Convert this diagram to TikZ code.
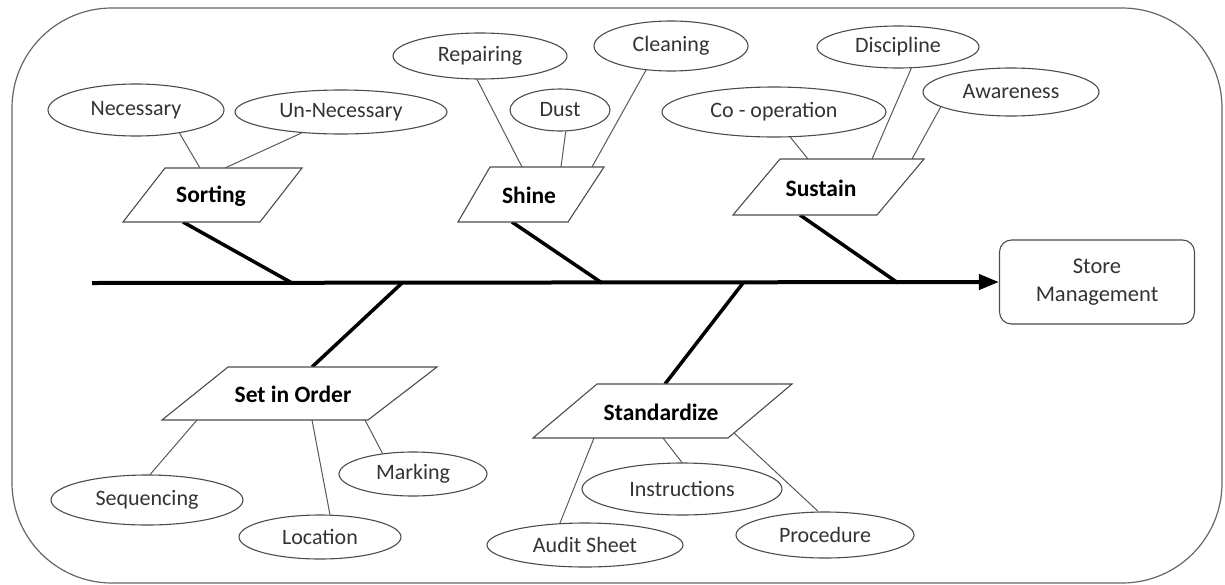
\documentclass[tikz,border=0pt]{standalone}
\usepackage{fontspec}
\setmainfont{Carlito}
\usetikzlibrary{shapes.geometric,arrows.meta}
\begin{document}
\begin{tikzpicture}[x=1pt,y=-1pt,
  leaf/.style={draw=black!70, line width=1.1pt, ellipse, inner sep=0pt, text=black!80, font=\fontsize{22}{26}\selectfont},
  para/.style={draw=black!70, line width=1.1pt, fill=white},
  plabel/.style={font=\fontsize{23.5}{27}\selectfont\bfseries, text=black, inner sep=0pt},
  twig/.style={draw=black!65, line width=1pt},
  rib/.style={line width=3.5pt, draw=black},
  spine/.style={line width=4pt, draw=black, -{Triangle[length=20pt,width=15pt]}},
  frame/.style={draw=black!60, line width=1.2pt, rounded corners=100pt},
  goal/.style={draw=black!70, line width=1.1pt, rounded corners=12pt, minimum width=195pt, minimum height=84pt, align=center, text=black!80, font=\fontsize{22.5}{28}\selectfont}
]
\useasboundingbox (0,0) rectangle (1225,584);
\draw[frame] (12,8) rectangle (1222,583);

% goal
\node[goal] (sm) at (1097,282) {Store\\Management};

% spine and rib joints
\coordinate (tail) at (92,283);
\coordinate (jsort) at (292,283);
\coordinate (jshine) at (602,283);
\coordinate (jsust) at (898,283);
\coordinate (jset) at (402,283);
\coordinate (jstd) at (743,283);
\draw[spine] (tail) -- (sm.west);

% parallelogram corners
\coordinate (so1) at (123,222); \coordinate (so2) at (260,222); \coordinate (so3) at (302,168); \coordinate (so4) at (165,168);
\coordinate (sh1) at (458,222); \coordinate (sh2) at (568,222); \coordinate (sh3) at (604,167); \coordinate (sh4) at (490,167);
\coordinate (su1) at (733,215); \coordinate (su2) at (877,215); \coordinate (su3) at (924,159); \coordinate (su4) at (780,159);
\coordinate (se1) at (162,420); \coordinate (se2) at (368,420); \coordinate (se3) at (437,367); \coordinate (se4) at (228,367);
\coordinate (st1) at (533,438); \coordinate (st2) at (728,438); \coordinate (st3) at (792,384); \coordinate (st4) at (597,384);

% rib ends
\coordinate (rsort) at (183,222);
\coordinate (rshine) at (512,222);
\coordinate (rsust) at (800,215);
\coordinate (rset) at (312,367);
\coordinate (rstd) at (665,384);

\draw[rib] (jsort) -- (rsort);
\draw[rib] (jshine) -- (rshine);
\draw[rib] (jsust) -- (rsust);
\draw[rib] (jset) -- (rset);
\draw[rib] (jstd) -- (rstd);

\draw[para] (so1) -- (so2) -- (so3) -- (so4) -- cycle;
\draw[para] (sh1) -- (sh2) -- (sh3) -- (sh4) -- cycle;
\draw[para] (su1) -- (su2) -- (su3) -- (su4) -- cycle;
\draw[para] (se1) -- (se2) -- (se3) -- (se4) -- cycle;
\draw[para] (st1) -- (st2) -- (st3) -- (st4) -- cycle;

\node[plabel] (sorting) at (211,196) {Sorting};
\node[plabel] (shine) at (529,195) {Shine};
\node[plabel] (sustain) at (821,188) {Sustain};
\node[plabel] (setorder) at (293,394) {Set in Order};
\node[plabel] (standard) at (661,412) {Standardize};

% leaves
\node[leaf, minimum width=176pt, minimum height=52pt] (nec) at (136,110) {Necessary};
\node[leaf, minimum width=212pt, minimum height=44pt] (unn) at (341,112) {Un-Necessary};
\node[leaf, minimum width=174pt, minimum height=46pt] (rep) at (480,56) {Repairing};
\node[leaf, minimum width=100pt, minimum height=42pt] (dust) at (560,110) {Dust};
\node[leaf, minimum width=154pt, minimum height=50pt] (clean) at (671,46) {Cleaning};
\node[leaf, minimum width=224pt, minimum height=50pt] (coop) at (774,112) {Co - operation};
\node[leaf, minimum width=162pt, minimum height=42pt] (disc) at (898,47) {Discipline};
\node[leaf, minimum width=176pt, minimum height=48pt] (aware) at (1011,92) {Awareness};
\node[leaf, minimum width=192pt, minimum height=50pt] (seq) at (147,500) {Sequencing};
\node[leaf, minimum width=162pt, minimum height=44pt] (loc) at (320,537) {Location};
\node[leaf, minimum width=148pt, minimum height=44pt] (mark) at (413,474) {Marking};
\node[leaf, minimum width=200pt, minimum height=52pt] (instr) at (682,489) {Instructions};
\node[leaf, minimum width=196pt, minimum height=44pt] (audit) at (585,545) {Audit Sheet};
\node[leaf, minimum width=178pt, minimum height=46pt] (proc) at (825,535) {Procedure};

% twig attach points
\coordinate (tnec) at (200,168); \coordinate (tunn) at (225,168);
\coordinate (trep) at (522,167); \coordinate (tdust) at (561,167); \coordinate (tclean) at (592,167);
\coordinate (tcoop) at (808,159); \coordinate (tdisc) at (872,159); \coordinate (taware) at (912,159);
\coordinate (tseq) at (197,420); \coordinate (tloc) at (312,420); \coordinate (tmark) at (365,420);
\coordinate (taudit) at (594,438); \coordinate (tinstr) at (663,438); \coordinate (tproc) at (734,433);

\draw[twig] (nec.-28) -- (tnec);
\draw[twig] (unn.-152) -- (tunn);
\draw[twig] (rep.-97) -- (trep);
\draw[twig] (dust.-75) -- (tdust);
\draw[twig] (clean.-136) -- (tclean);
\draw[twig] (coop.-57) -- (tcoop);
\draw[twig] (disc.-58) -- (tdisc);
\draw[twig] (aware.-168) -- (taware);
\draw[twig] (seq.83) -- (tseq);
\draw[twig] (loc.66) -- (tloc);
\draw[twig] (mark.146) -- (tmark);
\draw[twig] (audit.139) -- (taudit);
\draw[twig] (instr.90) -- (tinstr);
\draw[twig] (proc.106) -- (tproc);
\end{tikzpicture}
\end{document}
